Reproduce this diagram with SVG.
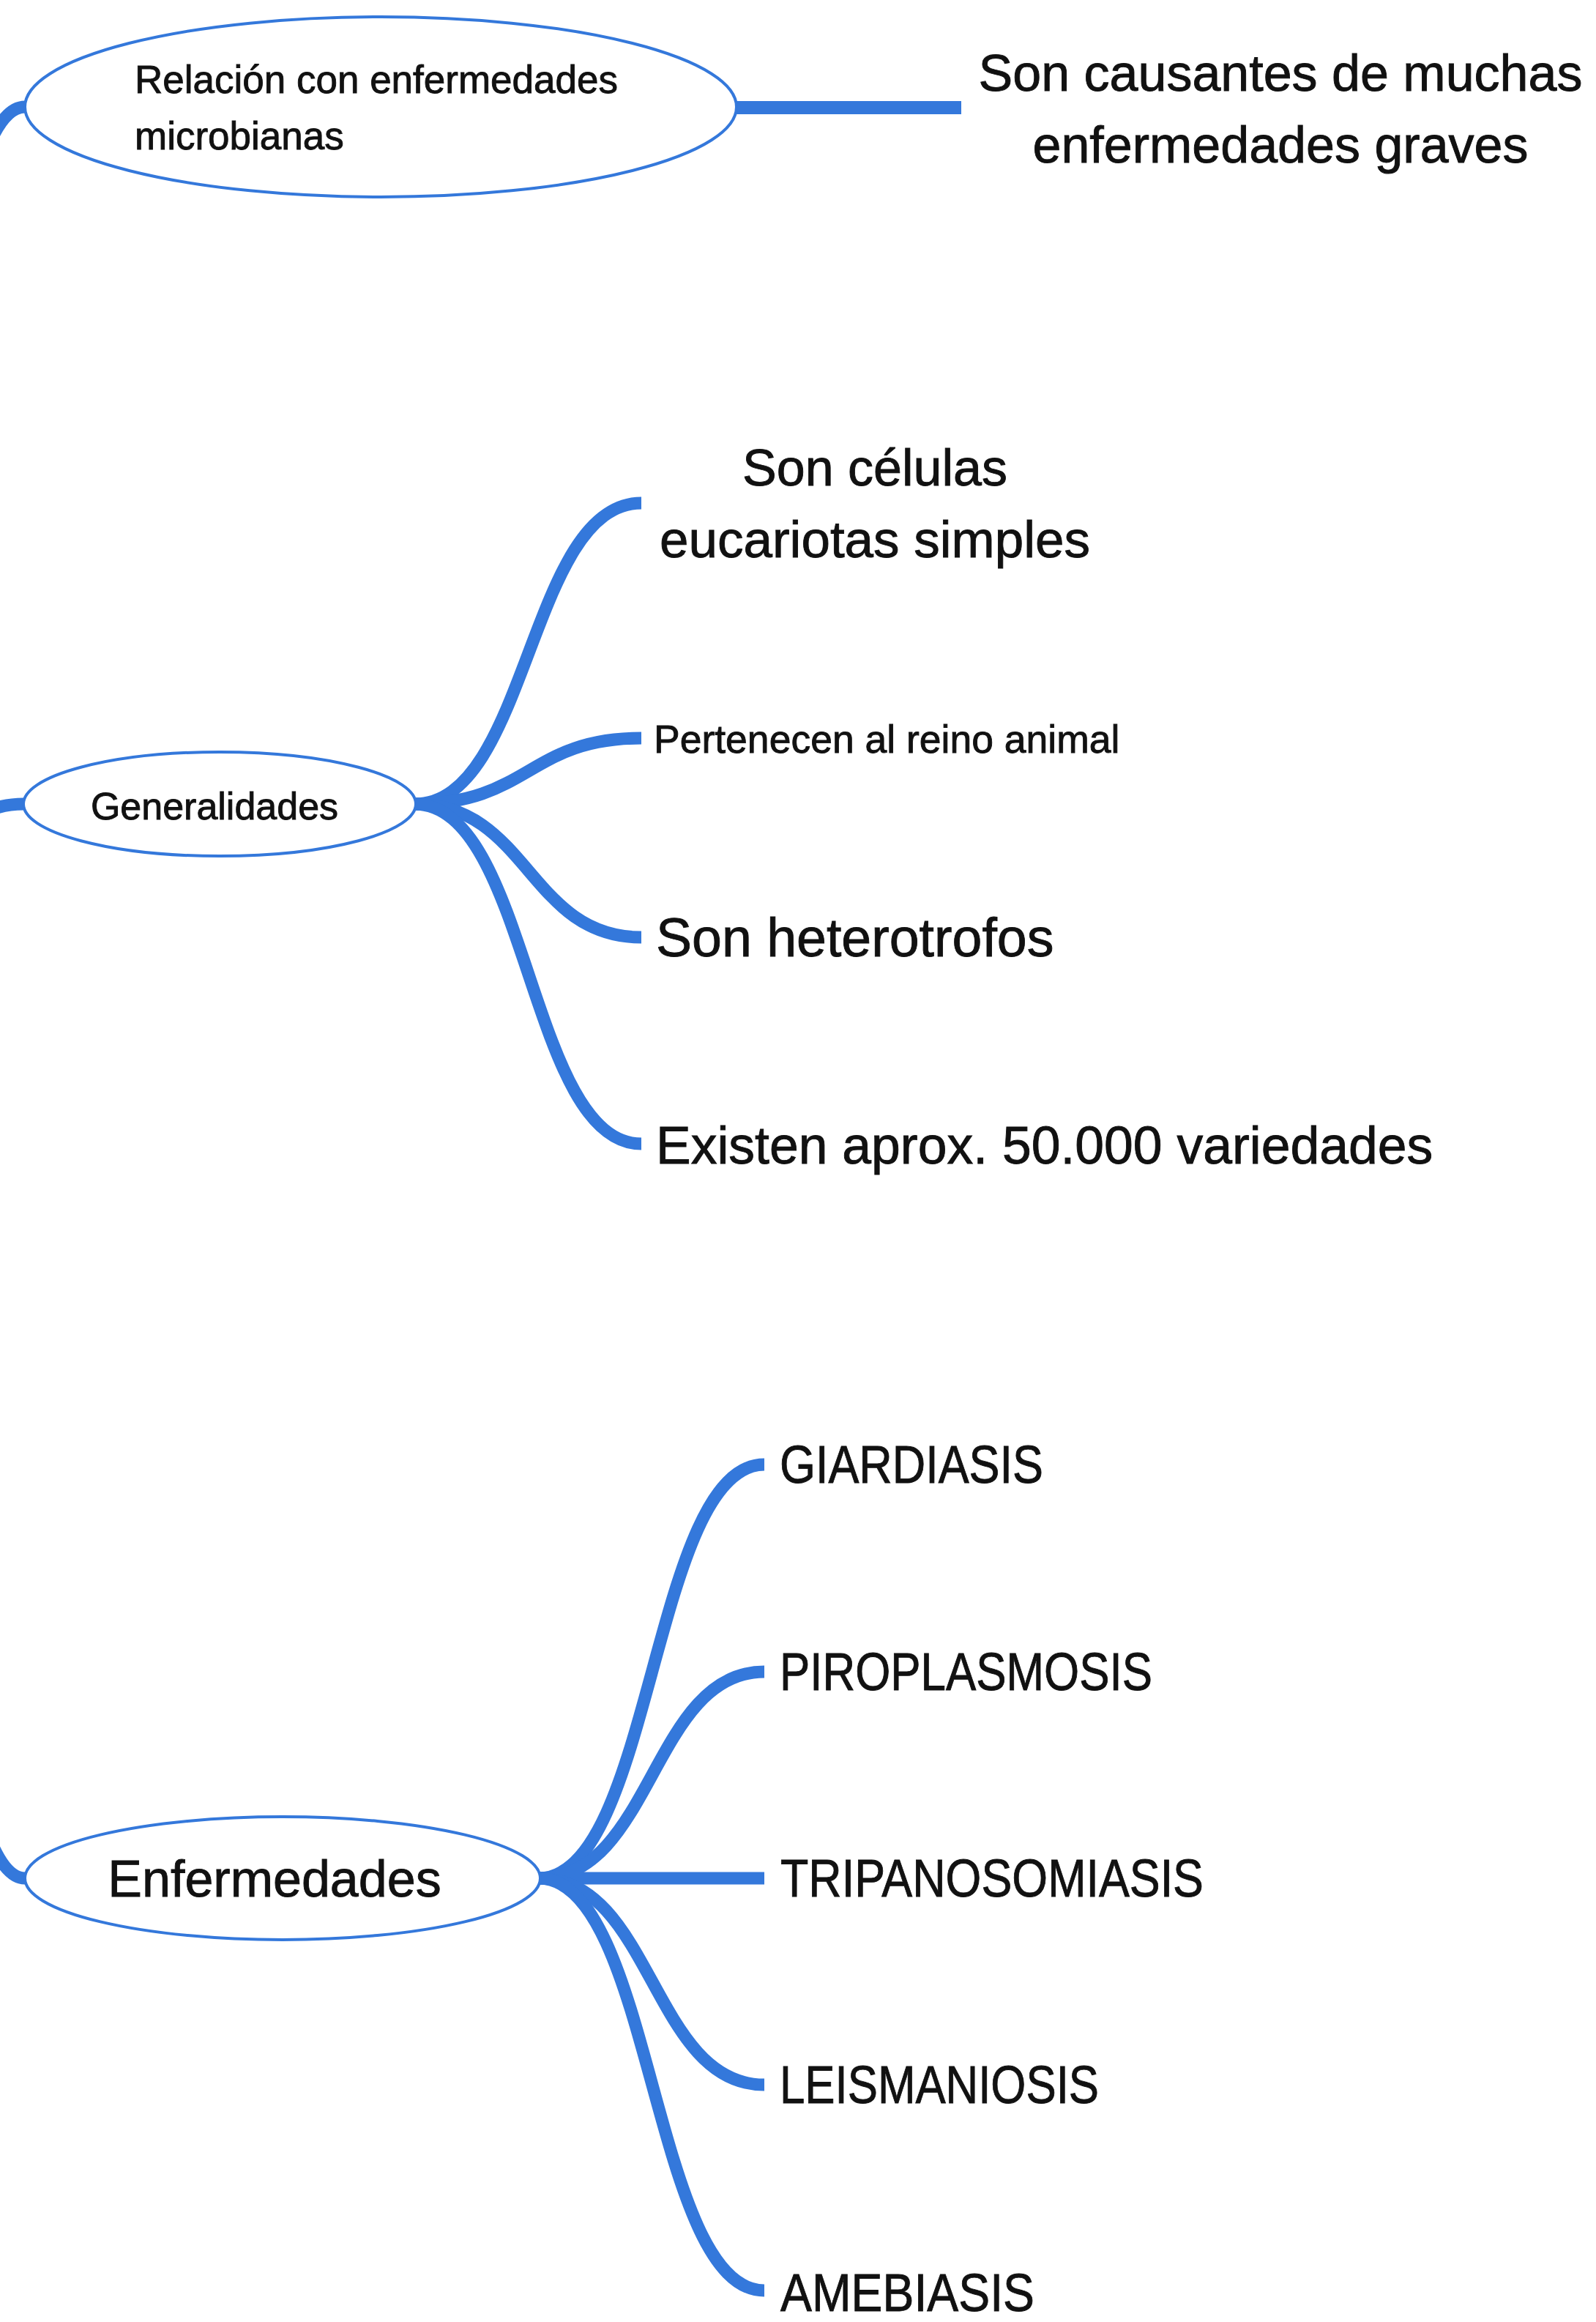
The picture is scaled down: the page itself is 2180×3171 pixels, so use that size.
<svg xmlns="http://www.w3.org/2000/svg" width="2180" height="3171" viewBox="0 0 2180 3171">
<style>
.bg{fill:#ffffff}
.node{fill:#ffffff;stroke:#3478db;stroke-width:4}
.conn{fill:none;stroke:#3478db;stroke-width:17;stroke-linecap:butt}
.t{font-family:"Liberation Sans",Arial,sans-serif;fill:#111111;stroke:#111111;stroke-width:0.9}
</style>
<rect class="bg" x="0" y="0" width="2180" height="3171"/>
<g id="connectors">
<path class="conn" d="M -256 1300 C -111 1300, -111 146, 34 146"/>
<path class="conn" d="M -256 1300 C -111 1300, -111 1098, 32 1098"/>
<path class="conn" d="M -256 1300 C -111 1300, -111 2565, 34 2565"/>
<path class="conn" style="stroke-width:18" d="M 1004 147 L 1313 147"/>
<path class="conn" d="M 566 1098 C 722 1098, 722 687, 876 687"/>
<path class="conn" d="M 566 1098 C 722 1098, 722 1008, 876 1008"/>
<path class="conn" d="M 566 1098 C 722 1098, 722 1280, 876 1280"/>
<path class="conn" d="M 566 1098 C 722 1098, 722 1562, 876 1562"/>
<path class="conn" d="M 736 2565 C 891 2565, 891 2000, 1044 2000"/>
<path class="conn" d="M 736 2565 C 891 2565, 891 2283, 1044 2283"/>
<path class="conn" d="M 736 2565 L 1044 2565"/>
<path class="conn" d="M 736 2565 C 891 2565, 891 2847, 1044 2847"/>
<path class="conn" d="M 736 2565 C 891 2565, 891 3128, 1044 3128"/>
</g>
<g id="node-relacion">
<ellipse class="node" cx="520" cy="146" rx="486" ry="123"/>
<text class="t" x="184" y="127" font-size="53">Relación con enfermedades</text>
<text class="t" x="184" y="204" font-size="53">microbianas</text>
</g>
<g id="node-causantes">
<text class="t" x="1749" y="124" font-size="70" text-anchor="middle">Son causantes de muchas</text>
<text class="t" x="1749" y="222" font-size="70" text-anchor="middle">enfermedades graves</text>
</g>
<g id="node-generalidades">
<ellipse class="node" cx="300" cy="1098" rx="268" ry="71"/>
<text class="t" x="293" y="1119" font-size="52" text-anchor="middle">Generalidades</text>
</g>
<g id="node-celulas">
<text class="t" x="1195" y="663" font-size="70" text-anchor="middle">Son células</text>
<text class="t" x="1195" y="761" font-size="71" text-anchor="middle">eucariotas simples</text>
</g>
<g id="node-reino">
<text class="t" x="893" y="1028" font-size="53.5">Pertenecen al reino animal</text>
</g>
<g id="node-heterotrofos">
<text class="t" x="896" y="1306" font-size="73.5">Son heterotrofos</text>
</g>
<g id="node-variedades">
<text class="t" x="896" y="1589" font-size="71.5">Existen aprox. 50.000 variedades</text>
</g>
<g id="node-enfermedades">
<ellipse class="node" cx="386" cy="2565" rx="352" ry="84"/>
<text class="t" x="375" y="2590" font-size="70" text-anchor="middle">Enfermedades</text>
</g>
<g id="node-giardiasis">
<text class="t" x="1065" y="2025" font-size="72" textLength="360" lengthAdjust="spacingAndGlyphs">GIARDIASIS</text>
</g>
<g id="node-piroplasmosis">
<text class="t" x="1065" y="2308" font-size="72" textLength="509" lengthAdjust="spacingAndGlyphs">PIROPLASMOSIS</text>
</g>
<g id="node-tripanosomiasis">
<text class="t" x="1066" y="2590" font-size="72" textLength="578" lengthAdjust="spacingAndGlyphs">TRIPANOSOMIASIS</text>
</g>
<g id="node-leismaniosis">
<text class="t" x="1065" y="2872" font-size="72" textLength="436" lengthAdjust="spacingAndGlyphs">LEISMANIOSIS</text>
</g>
<g id="node-amebiasis">
<text class="t" x="1066" y="3156" font-size="72" textLength="347" lengthAdjust="spacingAndGlyphs">AMEBIASIS</text>
</g>
</svg>
